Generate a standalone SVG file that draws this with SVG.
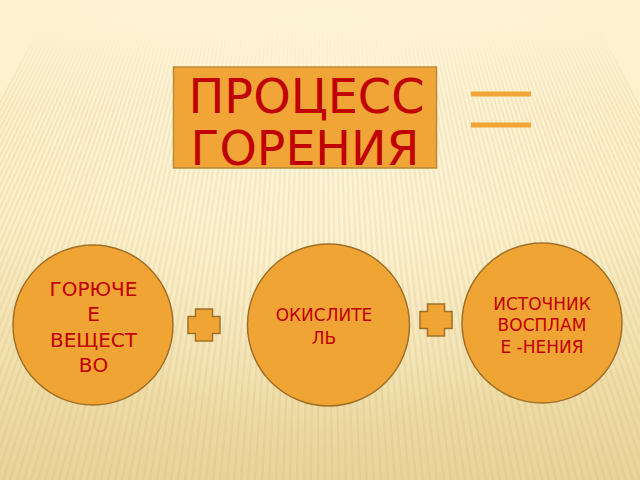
<svg xmlns="http://www.w3.org/2000/svg" width="640" height="480" viewBox="0 0 640 480">
<defs>
<linearGradient id="bg" x1="0" y1="0" x2="0" y2="1">
<stop offset="0" stop-color="#FDF2CF"/>
<stop offset="0.45" stop-color="#FCEFC6"/>
<stop offset="1" stop-color="#E8D398"/>
</linearGradient>
<radialGradient id="glow" cx="0.5" cy="0.3" r="0.6">
<stop offset="0" stop-color="#FFF8E0" stop-opacity="0.7"/>
<stop offset="1" stop-color="#FFF8E0" stop-opacity="0"/>
</radialGradient>
<linearGradient id="fade" x1="0" y1="0" x2="0" y2="1">
<stop offset="0.05" stop-color="#000"/>
<stop offset="0.22" stop-color="#fff"/>
<stop offset="1" stop-color="#fff"/>
</linearGradient>
<mask id="m"><rect width="640" height="480" fill="url(#fade)"/></mask>
<style>
.node{fill:#F0A433;stroke:#A07028;stroke-width:1.5}
.plus{fill:#F0A433;stroke:#A07028;stroke-width:1.5}
.t{font-family:"DejaVu Sans","Verdana",sans-serif;fill:#C00000;text-anchor:middle}
.stripe{fill:none;stroke:#C9A45A;stroke-opacity:0.14;stroke-width:2.2}
</style>
</defs>
<rect width="640" height="480" fill="url(#bg)"/>
<rect width="640" height="480" fill="url(#glow)"/>
<path class="stripe" mask="url(#m)" d="M320-500L-200 480M320-500L-193 480M320-500L-186 480M320-500L-179 480M320-500L-172 480M320-500L-165 480M320-500L-158 480M320-500L-151 480M320-500L-144 480M320-500L-137 480M320-500L-130 480M320-500L-123 480M320-500L-116 480M320-500L-109 480M320-500L-102 480M320-500L-95 480M320-500L-88 480M320-500L-81 480M320-500L-74 480M320-500L-67 480M320-500L-60 480M320-500L-53 480M320-500L-46 480M320-500L-39 480M320-500L-32 480M320-500L-25 480M320-500L-18 480M320-500L-11 480M320-500L-4 480M320-500L3 480M320-500L10 480M320-500L17 480M320-500L24 480M320-500L31 480M320-500L38 480M320-500L45 480M320-500L52 480M320-500L59 480M320-500L66 480M320-500L73 480M320-500L80 480M320-500L87 480M320-500L94 480M320-500L101 480M320-500L108 480M320-500L115 480M320-500L122 480M320-500L129 480M320-500L136 480M320-500L143 480M320-500L150 480M320-500L157 480M320-500L164 480M320-500L171 480M320-500L178 480M320-500L185 480M320-500L192 480M320-500L199 480M320-500L206 480M320-500L213 480M320-500L220 480M320-500L227 480M320-500L234 480M320-500L241 480M320-500L248 480M320-500L255 480M320-500L262 480M320-500L269 480M320-500L276 480M320-500L283 480M320-500L290 480M320-500L297 480M320-500L304 480M320-500L311 480M320-500L318 480M320-500L325 480M320-500L332 480M320-500L339 480M320-500L346 480M320-500L353 480M320-500L360 480M320-500L367 480M320-500L374 480M320-500L381 480M320-500L388 480M320-500L395 480M320-500L402 480M320-500L409 480M320-500L416 480M320-500L423 480M320-500L430 480M320-500L437 480M320-500L444 480M320-500L451 480M320-500L458 480M320-500L465 480M320-500L472 480M320-500L479 480M320-500L486 480M320-500L493 480M320-500L500 480M320-500L507 480M320-500L514 480M320-500L521 480M320-500L528 480M320-500L535 480M320-500L542 480M320-500L549 480M320-500L556 480M320-500L563 480M320-500L570 480M320-500L577 480M320-500L584 480M320-500L591 480M320-500L598 480M320-500L605 480M320-500L612 480M320-500L619 480M320-500L626 480M320-500L633 480M320-500L640 480M320-500L647 480M320-500L654 480M320-500L661 480M320-500L668 480M320-500L675 480M320-500L682 480M320-500L689 480M320-500L696 480M320-500L703 480M320-500L710 480M320-500L717 480M320-500L724 480M320-500L731 480M320-500L738 480M320-500L745 480M320-500L752 480M320-500L759 480M320-500L766 480M320-500L773 480M320-500L780 480M320-500L787 480M320-500L794 480M320-500L801 480M320-500L808 480M320-500L815 480M320-500L822 480M320-500L829 480M320-500L836 480"/>

<g id="title">
<rect x="173.5" y="67" width="263" height="101" fill="#F0A536" stroke="#B88A3A" stroke-width="1.5"/>
<text class="t" x="306.5" y="113" font-size="48" textLength="236" lengthAdjust="spacingAndGlyphs">ПРОЦЕСС</text>
<text class="t" x="305" y="165" font-size="48" textLength="229" lengthAdjust="spacingAndGlyphs">ГОРЕНИЯ</text>
</g>

<g id="equals" fill="#F0A536">
<rect x="471" y="91.5" width="60" height="5"/>
<rect x="471" y="122.5" width="60" height="5"/>
</g>

<g id="node-fuel">
<circle class="node" cx="93" cy="325" r="80"/>
<text class="t" font-size="20"><tspan x="93.5" y="295.5">ГОРЮЧЕ</tspan><tspan x="93.5" y="321">Е</tspan><tspan x="93.5" y="346.5">ВЕЩЕСТ</tspan><tspan x="93.5" y="372">ВО</tspan></text>
</g>

<g id="node-oxidizer">
<circle class="node" cx="328.5" cy="325" r="81"/>
<text class="t" font-size="17"><tspan x="324" y="321">ОКИСЛИТЕ</tspan><tspan x="324" y="343.5">ЛЬ</tspan></text>
</g>

<g id="node-ignition">
<circle class="node" cx="542" cy="323" r="80"/>
<text class="t" font-size="17"><tspan x="542" y="309.5">ИСТОЧНИК</tspan><tspan x="542" y="331">ВОСПЛАМ</tspan><tspan x="542" y="353">Е -НЕНИЯ</tspan></text>
</g>

<g id="connectors">
<path class="plus" d="M195.5 309H212.5V316.5H220V333.5H212.5V341H195.5V333.5H188V316.5H195.5Z"/>
<path class="plus" d="M427.5 304H444.5V311.5H452V328.5H444.5V336H427.5V328.5H420V311.5H427.5Z"/>
</g>
</svg>
